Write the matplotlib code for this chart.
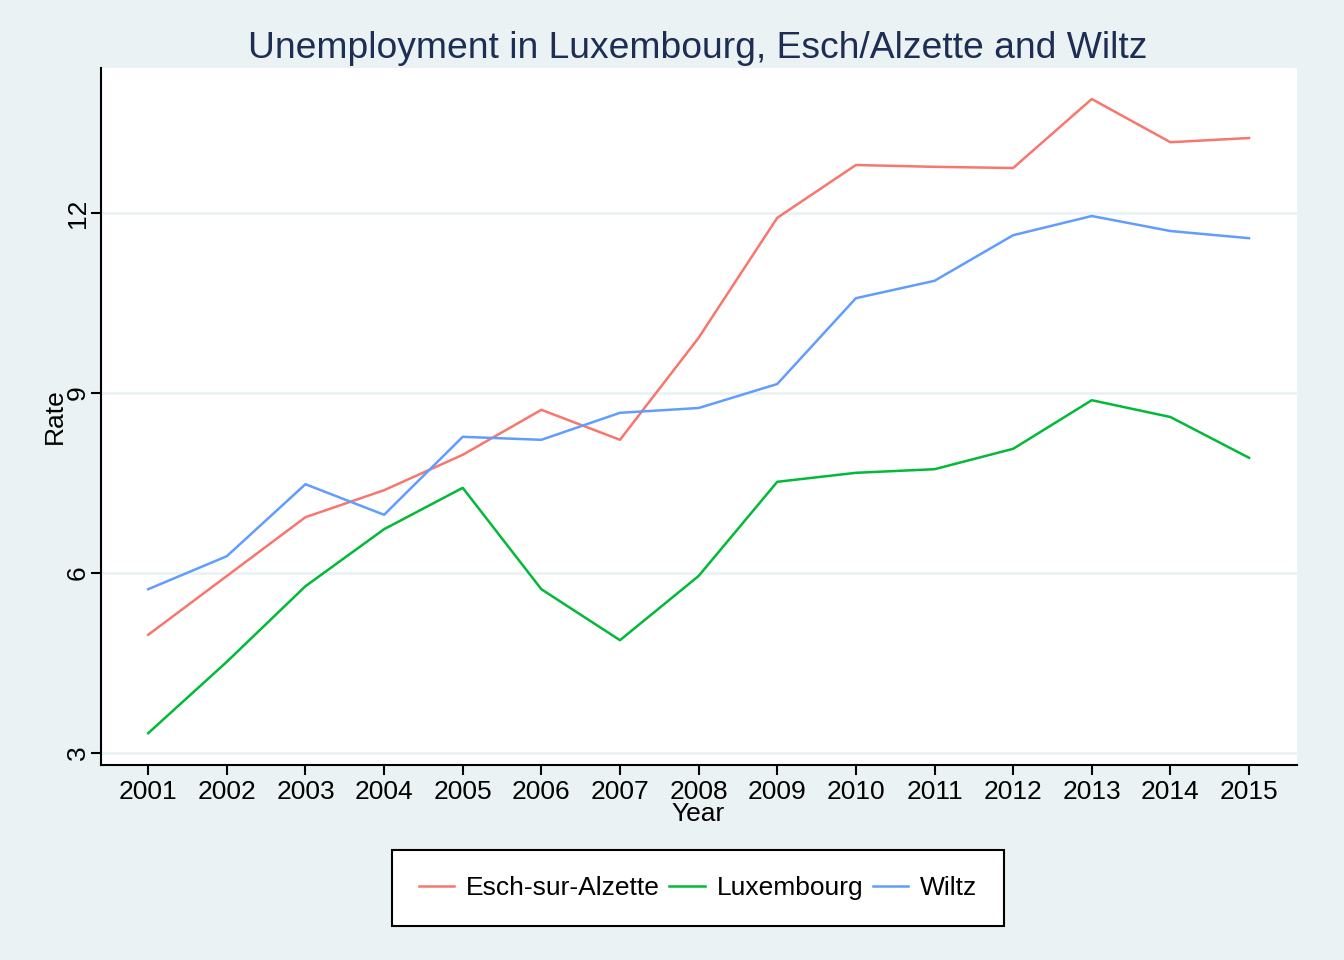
import matplotlib
matplotlib.use("Agg")
import matplotlib.pyplot as plt

plt.rcParams['font.family'] = ['Liberation Sans', 'DejaVu Sans']

years = list(range(2001, 2016))
esch = [4.97, 5.95, 6.93, 7.38, 7.97, 8.72, 8.22, 9.92, 11.92, 12.80, 12.77, 12.75, 13.90, 13.18, 13.25]
luxembourg = [3.33, 4.52, 5.78, 6.73, 7.42, 5.73, 4.88, 5.95, 7.52, 7.67, 7.73, 8.07, 8.88, 8.60, 7.92]
wiltz = [5.73, 6.28, 7.48, 6.97, 8.27, 8.22, 8.67, 8.75, 9.15, 10.58, 10.87, 11.63, 11.95, 11.70, 11.58]
yticks = [3, 6, 9, 12]

bg = '#EAF2F3'
W, H = 1344, 960
fig = plt.figure(figsize=(W / 100, H / 100), dpi=100, facecolor=bg)
ax = fig.add_axes([101 / W, 1 - 765 / H, (1297 - 101) / W, (765 - 68) / H])
ax.set_facecolor('white')

ax.plot(years, esch, color='#F8766D', lw=1.8, label='Esch-sur-Alzette')
ax.plot(years, luxembourg, color='#00BA38', lw=1.8, label='Luxembourg')
ax.plot(years, wiltz, color='#619CFF', lw=1.8, label='Wiltz')

ax.set_xlim(2000.40, 2015.61)
ax.set_ylim(2.8, 14.417)
ax.set_xticks(years)
ax.set_yticks(yticks)
ax.set_yticklabels([str(t) for t in yticks], rotation=90, va='center')
ax.grid(axis='y', color=bg, lw=2)
ax.set_axisbelow(True)

for s in ['top', 'right']:
    ax.spines[s].set_visible(False)
for s in ['left', 'bottom']:
    ax.spines[s].set_linewidth(1.5)
ax.tick_params(length=7.5, width=1.5, labelsize=19)
ax.tick_params(axis='x', pad=3)
ax.tick_params(axis='y', pad=0.5)

# axis titles placed like the stata output
fig.text(698 / W, 1 - 814 / H, 'Year', ha='center', va='center', fontsize=19)
fig.text(55 / W, 1 - 416 / H, 'Rate', ha='center', va='center', fontsize=19, rotation=90)
fig.text(698 / W, 1 - 48 / H, 'Unemployment in Luxembourg, Esch/Alzette and Wiltz',
         ha='center', va='center', fontsize=26.8, color='#1E2D53')

leg = fig.legend(loc='center', bbox_to_anchor=(698 / W, 1 - 888 / H), ncol=3,
                 fontsize=19, frameon=True, fancybox=False, framealpha=1,
                 handlelength=1.35, columnspacing=0.35, handletextpad=0.45,
                 borderpad=1.0)
leg.get_frame().set_edgecolor('black')
leg.get_frame().set_linewidth(1.5)
leg.get_frame().set_facecolor('white')

fig.savefig('out.png', dpi=100, facecolor=bg)
